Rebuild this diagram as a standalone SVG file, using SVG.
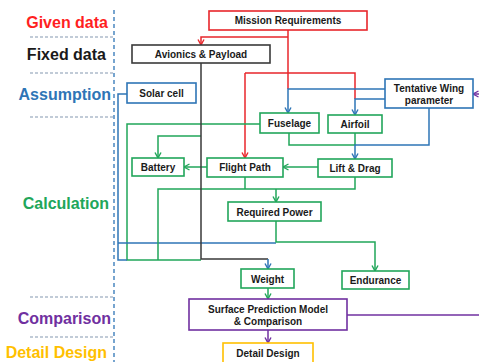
<svg xmlns="http://www.w3.org/2000/svg" width="479" height="362" viewBox="0 0 479 362">
<style>
.lbl{font-family:"Liberation Sans",Arial,sans-serif;font-weight:bold;font-size:16px;text-anchor:end}
.t{font-family:"Liberation Sans",Arial,sans-serif;font-weight:bold;font-size:10px;text-anchor:middle;fill:#1a1a1a}
.box{fill:#fff;stroke-width:1.6}
.c{fill:none;stroke-width:1.5}
.r{stroke:#e8262b}.b{stroke:#2e75b6}.g{stroke:#21a65a}.k{stroke:#3a3a3a}.p{stroke:#7030a0}.y{stroke:#ffc000}
.sep{stroke:#8497b0;stroke-width:1.2;stroke-dasharray:3,2}
</style>
<defs>
<marker id="ar" viewBox="0 0 8 8" refX="6.5" refY="4" markerWidth="8" markerHeight="8" markerUnits="userSpaceOnUse" orient="auto"><path d="M1,1 L6.5,4 L1,7" fill="none" stroke="#e8262b" stroke-width="1.4"/></marker>
<marker id="ab" viewBox="0 0 8 8" refX="6.5" refY="4" markerWidth="8" markerHeight="8" markerUnits="userSpaceOnUse" orient="auto"><path d="M1,1 L6.5,4 L1,7" fill="none" stroke="#2e75b6" stroke-width="1.4"/></marker>
<marker id="ag" viewBox="0 0 8 8" refX="6.5" refY="4" markerWidth="8" markerHeight="8" markerUnits="userSpaceOnUse" orient="auto"><path d="M1,1 L6.5,4 L1,7" fill="none" stroke="#21a65a" stroke-width="1.4"/></marker>
<marker id="ap" viewBox="0 0 8 8" refX="6.5" refY="4" markerWidth="8" markerHeight="8" markerUnits="userSpaceOnUse" orient="auto"><path d="M1,1 L6.5,4 L1,7" fill="none" stroke="#7030a0" stroke-width="1.4"/></marker>
</defs>
<rect width="479" height="362" fill="#fff"/>
<g id="stages">
<line x1="114" y1="10" x2="114" y2="362" stroke="#2e75b6" stroke-width="1.3" stroke-dasharray="4,3"/>
<line class="sep" x1="30" y1="37" x2="113" y2="37"/>
<line class="sep" x1="30" y1="73" x2="113" y2="73"/>
<line class="sep" x1="30" y1="117" x2="113" y2="117"/>
<line class="sep" x1="30" y1="297" x2="113" y2="297"/>
<line class="sep" x1="30" y1="337" x2="113" y2="337"/>
<text class="lbl" x="108" y="27.5" fill="#ff1f1f">Given data</text>
<text class="lbl" x="106" y="59.5" fill="#1a1a1a">Fixed data</text>
<text class="lbl" x="111" y="99.5" fill="#2e75b6">Assumption</text>
<text class="lbl" x="109" y="208.5" fill="#21a65a">Calculation</text>
<text class="lbl" x="111" y="323.5" fill="#7030a0">Comparison</text>
<text class="lbl" x="107" y="357.5" fill="#ffc000">Detail Design</text>
</g>
<g id="connectors">
<path class="c r" d="M288,30 V89"/>
<path class="c r" d="M288,37 H201 V45" marker-end="url(#ar)"/>
<path class="c r" d="M245,73 H355 V99"/>
<path class="c r" d="M245,73 V158" marker-end="url(#ar)"/>
<path class="c b" d="M385,89 H288 V113" marker-end="url(#ab)"/>
<path class="c b" d="M385,99 H355 V115" marker-end="url(#ab)"/>
<path class="c g" d="M289,133 V145 H355"/>
<path class="c g" d="M355,133 V145"/>
<path class="c b" d="M429,108 V145 H355 V159" marker-end="url(#ab)"/>
<path class="c g" d="M260,124 H127 V260 H201"/>
<path class="c b" d="M127,94 H118 V260 H127"/>
<path class="c b" d="M118,243 H276"/>
<path class="c g" d="M201,136 H158 V158" marker-end="url(#ag)"/>
<path class="c g" d="M207,167 H184" marker-end="url(#ag)"/>
<path class="c g" d="M318,167 H283" marker-end="url(#ag)"/>
<path class="c g" d="M245,177 V189"/>
<path class="c g" d="M355,177 V189 H158 V260"/>
<path class="c g" d="M276,189 V202" marker-end="url(#ag)"/>
<path class="c g" d="M276,221 V242 H375 V271" marker-end="url(#ag)"/>
<path class="c k" d="M201,63 V259 H268"/>
<path class="c b" d="M268,259 V269" marker-end="url(#ab)"/>
<path class="c g" d="M268,288 V299" marker-end="url(#ag)"/>
<path class="c p" d="M347,315 H479"/>
<path class="c p" d="M479,94 H473" marker-end="url(#ap)"/>
<path class="c p" d="M268,330 V343" marker-end="url(#ap)"/>
</g>
<g id="mission"><rect class="box r" x="209" y="11" width="158" height="19"/><text class="t" x="288" y="24">Mission Requirements</text></g>
<g id="avionics"><rect class="box k" x="132" y="45" width="138" height="18"/><text class="t" x="201" y="57.5">Avionics &amp; Payload</text></g>
<g id="solar"><rect class="box b" x="127" y="83" width="69" height="20"/><text class="t" x="161.5" y="96.5">Solar cell</text></g>
<g id="wing"><rect class="box b" x="385" y="79" width="88" height="29"/><text class="t" x="429" y="92">Tentative Wing</text><text class="t" x="429" y="104">parameter</text></g>
<g id="fuselage"><rect class="box g" x="260" y="113" width="59" height="20"/><text class="t" x="289.5" y="126.5">Fuselage</text></g>
<g id="airfoil"><rect class="box g" x="328" y="115" width="54" height="18"/><text class="t" x="355" y="127.5">Airfoil</text></g>
<g id="battery"><rect class="box g" x="132" y="158" width="52" height="18"/><text class="t" x="158" y="170.5">Battery</text></g>
<g id="flightpath"><rect class="box g" x="207" y="158" width="76" height="19"/><text class="t" x="245" y="170.5">Flight Path</text></g>
<g id="liftdrag"><rect class="box g" x="318" y="159" width="74" height="18"/><text class="t" x="355" y="171.5">Lift &amp; Drag</text></g>
<g id="power"><rect class="box g" x="228" y="202" width="93" height="19"/><text class="t" x="274.5" y="215.5">Required Power</text></g>
<g id="weight"><rect class="box g" x="241" y="269" width="53" height="19"/><text class="t" x="267.5" y="282.5">Weight</text></g>
<g id="endurance"><rect class="box g" x="342" y="271" width="67" height="18"/><text class="t" x="375.5" y="283.5">Endurance</text></g>
<g id="surface"><rect class="box p" x="189" y="299" width="158" height="31"/><text class="t" x="268" y="313">Surface Prediction Model</text><text class="t" x="268" y="325">&amp; Comparison</text></g>
<g id="detail"><rect class="box y" x="223" y="343" width="90" height="25"/><text class="t" x="268" y="356.5">Detail Design</text></g>
</svg>
